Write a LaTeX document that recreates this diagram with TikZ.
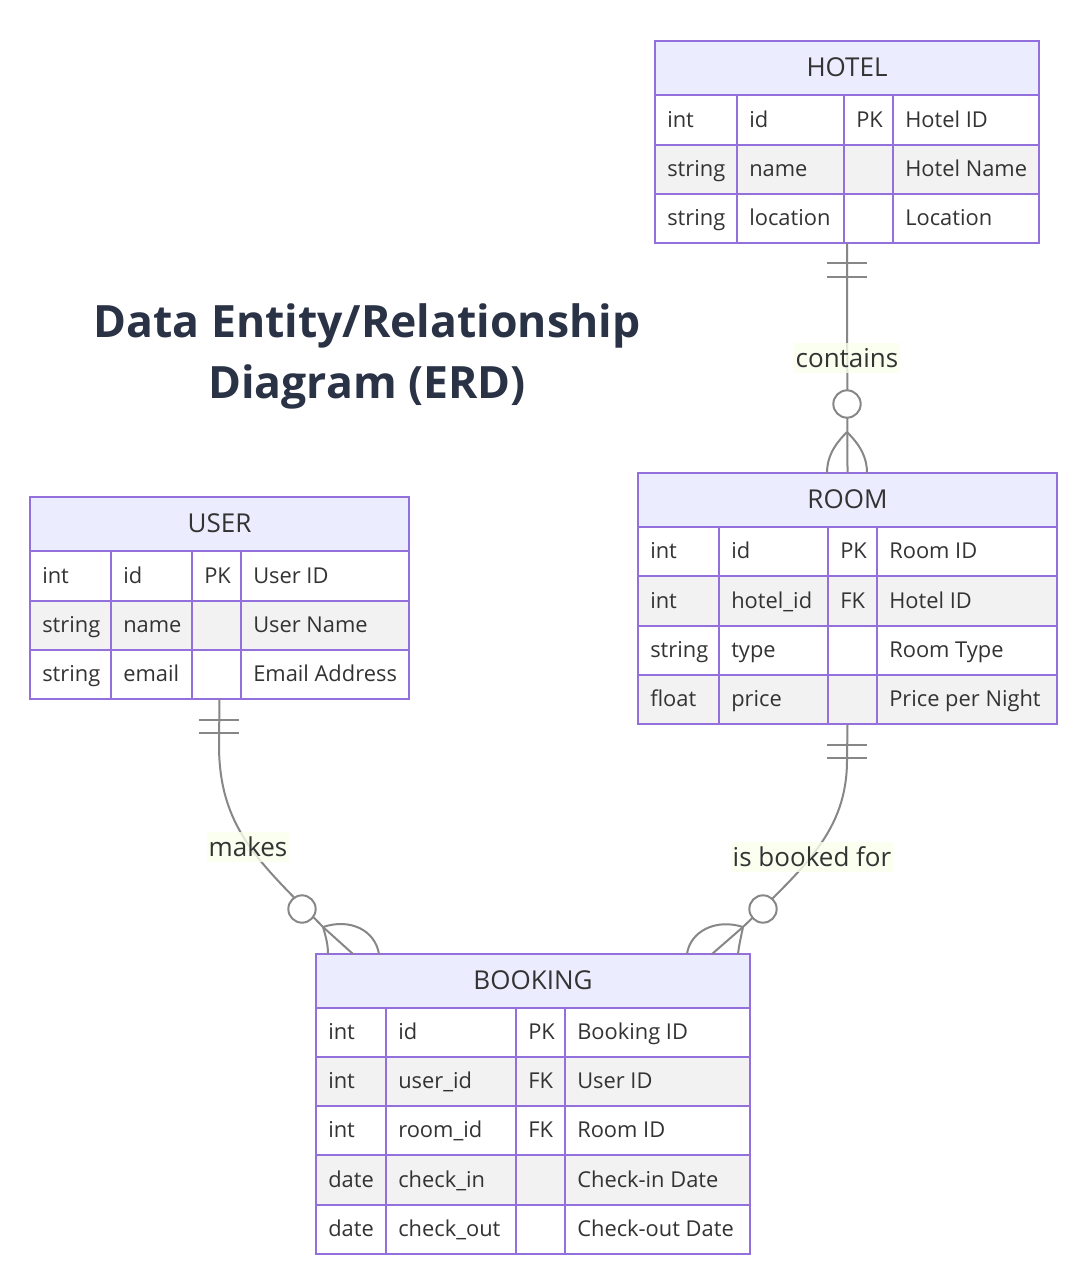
\documentclass[tikz,border=0pt]{standalone}
\usepackage{fontspec}
\setmainfont{Open Sans}
\usetikzlibrary{fit}
\definecolor{ebd}{HTML}{9370DB}
\definecolor{ehd}{HTML}{ECECFF}
\definecolor{egr}{HTML}{F2F2F2}
\definecolor{etx}{HTML}{333333}
\definecolor{ettl}{HTML}{2A3245}
\definecolor{eln}{HTML}{878787}
\definecolor{elb}{HTML}{F9FFEC}
\tikzset{
  ebord/.style={draw=ebd, line width=1.5pt},
  cell/.style={anchor=west, inner sep=0pt, text height=0.72em, text depth=0pt, text=etx, font=\fontsize{16.4}{19}\selectfont},
  hdr/.style={cell, anchor=center, font=\fontsize{19.5}{23}\selectfont},
  conn/.style={draw=eln, line width=1.5pt},
  rlabel/.style={fill=elb, fill opacity=0.8, text opacity=1, text=etx, inner xsep=1.5pt, inner ysep=0pt, minimum height=23pt, font=\fontsize{19.5}{23}\selectfont},
  tbl/.style={inner sep=0pt},
}
\newcommand\ercols[5]{\def\xa{#1}\def\xb{#2}\def\xc{#3}\def\xd{#4}\def\xe{#5}}
\def\erow#1(#2,#3,#4)#5|#6|#7|#8;{%
  \fill[#4] (\xa,#2) rectangle (\xe,#3);
  \draw[ebord] (\xa,#2) rectangle (\xe,#3) (\xb,#2) -- (\xb,#3) (\xc,#2) -- (\xc,#3) (\xd,#2) -- (\xd,#3);
  \node[cell] (#1a) at ({\xa+12},{(#2+#3)/2+2.5}) {#5};
  \node[cell] (#1b) at ({\xb+12},{(#2+#3)/2+2.5}) {#6};
  \node[cell] (#1c) at ({\xc+12},{(#2+#3)/2+2.5}) {#7};
  \node[cell] (#1d) at ({\xd+12},{(#2+#3)/2+2.5}) {#8};
}
\def\erhead#1(#2,#3)#4;{%
  \fill[ehd] (\xa,#2) rectangle (\xe,#3);
  \draw[ebord] (\xa,#2) rectangle (\xe,#3);
  \node[hdr] (#1) at ({(\xa+\xe)/2},{(#2+#3)/2+3.5}) {#4};
}
\begin{document}
\begin{tikzpicture}[x=0.75pt, y=-0.75pt]
\useasboundingbox (0,0) rectangle (1080,1280);
\fill[white] (0,0) rectangle (1080,1280);

% title
\node[font=\fontsize{33.4}{45.75}\selectfont\bfseries, text=ettl, align=center] (title) at (367,356) {Data Entity/Relationship\\Diagram (ERD)};

% HOTEL
\ercols{655}{737}{844}{893}{1039}
\erhead hotelh(41,95)HOTEL;
\erow hotelA(95,145,white)int|id|PK|Hotel ID;
\erow hotelB(145,194,egr)string|name| |Hotel Name;
\erow hotelC(194,243,white)string|location| |Location;
\node[tbl, fit={(655,41) (1039,243)}] (hotel) {};

% ROOM
\ercols{638}{719}{828}{877}{1057}
\erhead roomh(473,527)ROOM;
\erow roomA(527,576,white)int|id|PK|Room ID;
\erow roomB(576,626,egr)int|hotel\_id|FK|Hotel ID;
\erow roomC(626,675,white)string|type| |Room Type;
\erow roomD(675,724,egr)float|price| |Price per Night;
\node[tbl, fit={(638,473) (1057,724)}] (room) {};

% USER
\ercols{30}{111}{192}{241}{409}
\erhead userh(497,551)USER;
\erow userA(551,601,white)int|id|PK|User ID;
\erow userB(601,650,egr)string|name| |User Name;
\erow userC(650,699,white)string|email| |Email Address;
\node[tbl, fit={(30,497) (409,699)}] (user) {};

% BOOKING
\ercols{316}{386}{516}{565}{750}
\erhead bookingh(954,1008)BOOKING;
\erow bookA(1008,1057,white)int|id|PK|Booking ID;
\erow bookB(1057,1106,egr)int|user\_id|FK|User ID;
\erow bookC(1106,1155,white)int|room\_id|FK|Room ID;
\erow bookD(1155,1205,egr)date|check\_in| |Check-in Date;
\erow bookE(1205,1254,white)date|check\_out| |Check-out Date;
\node[tbl, fit={(316,954) (750,1254)}] (booking) {};

% ---- HOTEL -> ROOM
\coordinate (hrtip) at (847,432);
\draw[conn] (hotel.south) -- (room.north);
\draw[conn] (827,263) -- (867,263) (827,277) -- (867,277);
\draw[conn] (hrtip) .. controls (833,446) and (827,458) .. (827,473);
\draw[conn] (hrtip) .. controls (861,446) and (867,458) .. (867,473);
\node[circle, conn, fill=white, minimum size=20.5pt, inner sep=0pt] (hrcirc) at (847,404) {};
\node[rlabel] (lcontains) at (847,358) {contains};

% ---- USER -> BOOKING
\coordinate (ubtip) at (323,927);
\draw[conn] (user.south) -- (219,745) .. controls (219,830) and (262,864) .. (ubtip);
\draw[conn] (199,720) -- (239,720) (199,733) -- (239,733);
\draw[conn] (ubtip) -- (353,954);
\draw[conn] (ubtip) .. controls (326,937) and (328,945) .. (328,954);
\draw[conn] (ubtip) .. controls (350,918) and (375,930) .. (379,954);
\node[circle, conn, fill=white, minimum size=20.5pt, inner sep=0pt] (ubcirc) at (302,909) {};
\node[rlabel] (lmakes) at (248,847) {makes};

% ---- ROOM -> BOOKING
\coordinate (rbtip) at (743,927);
\draw[conn] (room.south) -- (847,760) .. controls (847,830) and (806,866) .. (rbtip);
\draw[conn] (827,745) -- (867,745) (827,758) -- (867,758);
\draw[conn] (rbtip) -- (712,954);
\draw[conn] (rbtip) .. controls (741,937) and (739,945) .. (738,954);
\draw[conn] (rbtip) .. controls (715,918) and (690,932) .. (687,954);
\node[circle, conn, fill=white, minimum size=20.5pt, inner sep=0pt] (rbcirc) at (763,909) {};
\node[rlabel] (lbooked) at (812,857) {is booked for};
\end{tikzpicture}
\end{document}
